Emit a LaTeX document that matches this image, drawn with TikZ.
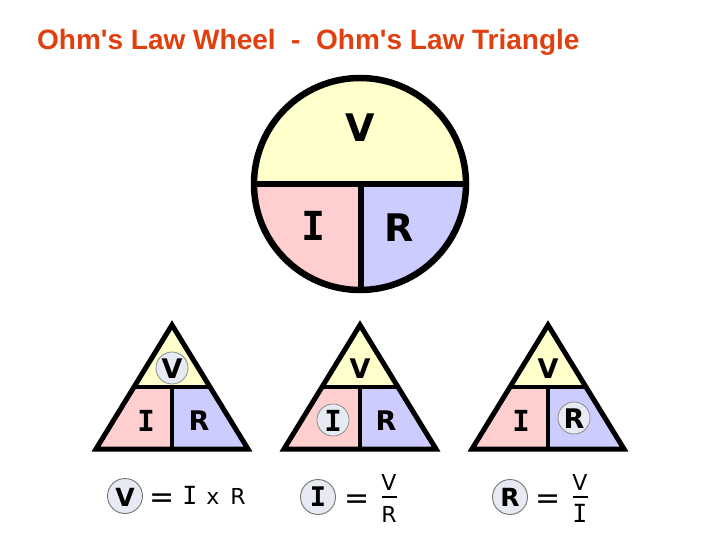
\documentclass[tikz,border=0pt]{standalone}
\usepackage{fontspec}
\setmainfont{DejaVu Sans}
\newfontfamily\titlefont{Liberation Sans}
\newfontfamily\monofont{DejaVu Sans Mono}
\definecolor{vyel}{HTML}{FFFFCC}
\definecolor{ipink}{HTML}{FFCFCF}
\definecolor{rblue}{HTML}{CCCCFF}
\definecolor{titlered}{HTML}{E0400F}
\definecolor{ringfill}{HTML}{E6EAF2}
\tikzset{
  letter/.style={inner sep=0pt, font=\fontsize{27}{29}\selectfont\bfseries},
  wheelletter/.style={inner sep=0pt, font=\fontsize{38}{40}\selectfont\bfseries},
  eqtext/.style={inner sep=0pt, anchor=base, font=\fontsize{22}{24}\selectfont},
  eqsign/.style={inner sep=0pt, font=\fontsize{30}{32}\selectfont},
  ring/.style={circle, draw=black!45, line width=0.8pt, fill=ringfill, minimum size=32pt, inner sep=0pt},
  eqring/.style={circle, draw=black!55, line width=0.9pt, fill=ringfill, minimum size=35pt, inner sep=0pt},
  outline/.style={line width=5pt, line join=miter},
}
\begin{document}
\begin{tikzpicture}[x=1pt,y=-1pt]
\useasboundingbox (0,0) rectangle (720,540);
% title
\node[anchor=base west, inner sep=0pt, text=titlered, font=\titlefont\fontsize{28}{30}\selectfont\bfseries]
  (title) at (37,50) {Ohm's Law Wheel\ \ -\ \ Ohm's Law Triangle};
% wheel
\begin{scope}
  \clip (360,184) circle (106);
  \fill[vyel] (250,70) rectangle (470,184);
  \fill[ipink] (250,184) rectangle (360,300);
  \fill[rblue] (360,184) rectangle (470,300);
\end{scope}
\draw[line width=6.5pt] (360,184) circle (106);
\coordinate (wl) at (254,184);
\coordinate (wr) at (466,184);
\coordinate (wc) at (361,184);
\coordinate (wb) at (361,290);
\draw[line width=6pt] (wl) -- (wr);
\draw[line width=6pt] (wc) -- (wb);
\node[wheelletter] (wV) at (360,128) {V};
\node[wheelletter, font=\monofont\fontsize{40}{42}\selectfont\bfseries] (wI) at (314,226) {I};
\node[wheelletter] (wR) at (399,228) {R};
% triangles
\foreach \cx/\n in {172/a,360/b,548/c}{
  \fill[vyel] (\cx,325) -- (\cx+38,387) -- (\cx-38,387) -- cycle;
  \fill[ipink] (\cx-38,387) -- (\cx,387) -- (\cx,449) -- (\cx-76,449) -- cycle;
  \fill[rblue] (\cx,387) -- (\cx+38,387) -- (\cx+76,449) -- (\cx,449) -- cycle;
  \coordinate (top\n) at (\cx,325);
  \coordinate (bl\n) at (\cx-76,449);
  \coordinate (br\n) at (\cx+76,449);
  \coordinate (ml\n) at (\cx-38,387);
  \coordinate (mr\n) at (\cx+38,387);
  \coordinate (mc\n) at (\cx,387);
  \coordinate (bc\n) at (\cx,449);
  \draw[outline] (top\n) -- (br\n) -- (bl\n) -- cycle;
  \draw[line width=4.5pt] (ml\n) -- (mr\n);
  \draw[line width=4.5pt] (mc\n) -- (bc\n);
}
% rings
\node[ring] (ra) at (172,368) {};
\node[ring] (rb) at (333,420) {};
\node[ring] (rc) at (574,418) {};
% triangle letters
\node[letter] (aV) at (172,369) {V};
\node[letter, font=\monofont\fontsize{29}{31}\selectfont\bfseries] (aI) at (146,421) {I};
\node[letter] (aR) at (199,421) {R};
\node[letter] (bV) at (360,369) {V};
\node[letter, font=\monofont\fontsize{29}{31}\selectfont\bfseries] (bI) at (333,421) {I};
\node[letter] (bR) at (386,421) {R};
\node[letter] (cV) at (548,369) {V};
\node[letter, font=\monofont\fontsize{29}{31}\selectfont\bfseries] (cI) at (521,421) {I};
\node[letter] (cR) at (574,419) {R};
% equation 1
\node[eqring] (e1r) at (125,496) {};
\node[letter, font=\fontsize{25}{27}\selectfont\bfseries] (e1V) at (125,497) {V};
\node[eqsign] (e1eq) at (162,501) {=};
\node[eqtext, font=\monofont\fontsize{25}{27}\selectfont] (e1I) at (190,504) {I};
\node[eqtext] (e1x) at (213,504) {x};
\node[eqtext] (e1R) at (238,504) {R};
% equation 2
\node[eqring] (e2r) at (318,497) {};
\node[letter, font=\monofont\fontsize{27}{29}\selectfont\bfseries] (e2I) at (318,497) {I};
\node[eqsign] (e2eq) at (357,502) {=};
\node[eqtext] (e2V) at (389,490) {V};
\coordinate (f2l) at (382,497);
\coordinate (f2r) at (397,497);
\draw[line width=1.2pt] (f2l) -- (f2r);
\node[eqtext] (e2R) at (389,522) {R};
% equation 3
\node[eqring] (e3r) at (510,497) {};
\node[letter, font=\fontsize{25}{27}\selectfont\bfseries] (e3R) at (510,497) {R};
\node[eqsign] (e3eq) at (548,502) {=};
\node[eqtext] (e3V) at (580,490) {V};
\coordinate (f3l) at (573,497);
\coordinate (f3r) at (588,497);
\draw[line width=1.2pt] (f3l) -- (f3r);
\node[eqtext, font=\monofont\fontsize{25}{27}\selectfont] (e3I) at (580,522) {I};
\end{tikzpicture}
\end{document}
